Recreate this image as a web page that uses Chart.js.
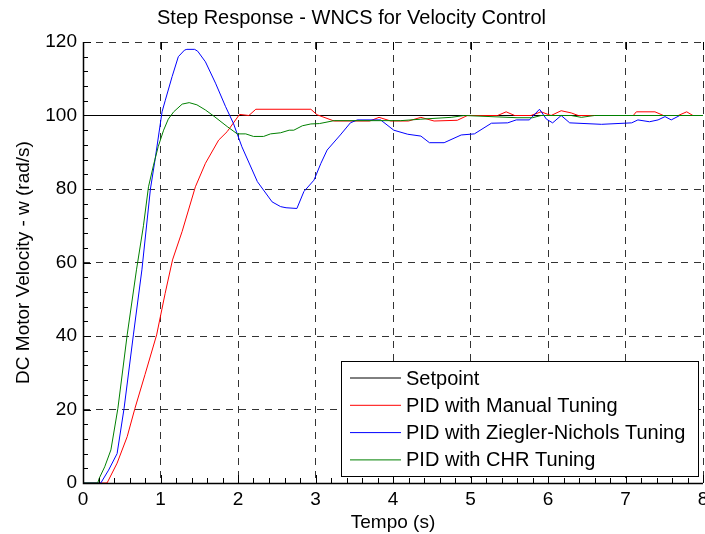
<!DOCTYPE html>
<html lang="en">
<head>
    <script src="https://cdn.jsdelivr.net/npm/chart.js"></script>
    <style>
        body { margin: 0; background: #fff; }
        .wrap { width: 705px; height: 534px; position: relative; }
    </style>
</head>
<body>
    <div class="wrap">
        <canvas id="stepChart"></canvas>
    </div>

    <script>
        // values
        const setpointT = [0, 8];
        const setpointW = [100, 100];

        const manualT = [0, 0.31, 0.33, 0.44, 0.57, 0.67, 0.80, 0.95, 1.06, 1.155, 1.28, 1.45, 1.58, 1.75, 1.86, 2.02, 2.14, 2.23, 2.94, 3.02, 3.24, 3.70, 3.82, 3.97, 4.20, 4.36, 4.53, 4.83, 4.96, 5.35, 5.46, 5.57, 5.78, 5.91, 6.04, 6.17, 6.30, 6.39, 7.10, 7.14, 7.38, 7.49, 7.68, 7.79, 7.87, 8];
        const manualW = [0, 0, 0.8, 5.4, 12.6, 20.3, 29.5, 40.3, 51.6, 60.7, 68.5, 80.6, 87, 93.3, 95.6, 100.3, 100, 101.7, 101.7, 100.2, 98.5, 98.5, 99.5, 98.5, 98.5, 99.5, 98.5, 98.7, 100, 100, 101, 100, 100, 101, 100, 101.3, 100.7, 100, 100, 101, 101, 100, 100, 101, 100, 100];

        const znT = [0, 0.23, 0.33, 0.44, 0.53, 0.65, 0.76, 0.87, 0.93, 1.02, 1.06, 1.15, 1.23, 1.31, 1.34, 1.44, 1.48, 1.58, 1.71, 1.84, 1.94, 2.05, 2.25, 2.44, 2.55, 2.62, 2.76, 2.85, 2.98, 3.07, 3.15, 3.32, 3.45, 3.54, 3.84, 4.01, 4.19, 4.36, 4.47, 4.66, 4.88, 5.05, 5.27, 5.48, 5.59, 5.76, 5.89, 5.98, 6.06, 6.17, 6.28, 6.69, 7.08, 7.16, 7.31, 7.42, 7.51, 7.59, 7.70, 8];
        const znW = [0, 0, 3.5, 8, 20.3, 40.3, 58, 80, 88, 101, 104, 110.6, 116, 117.8, 118, 118, 117.5, 114.6, 108.8, 102.4, 97.9, 91.5, 82, 76.5, 75.2, 74.9, 74.7, 79.3, 82.4, 87, 90.6, 94.7, 98, 98.8, 98.8, 96, 94.9, 94.4, 92.6, 92.6, 94.7, 95, 97.9, 98, 98.8, 98.8, 101.7, 99, 98, 100, 98, 97.6, 98, 98.8, 98.3, 98.8, 99.7, 98.8, 100, 100];

        const chrT = [0, 0.19, 0.21, 0.28, 0.36, 0.45, 0.57, 0.69, 0.78, 0.845, 0.91, 0.97, 1.04, 1.10, 1.17, 1.28, 1.37, 1.47, 1.58, 1.69, 1.86, 1.99, 2.10, 2.20, 2.33, 2.42, 2.55, 2.66, 2.72, 2.83, 2.94, 3.05, 3.24, 4.10, 4.36, 4.75, 4.92, 5.60, 5.80, 5.91, 6.30, 6.43, 6.60, 8];
        const chrW = [0, 0, 1.3, 4.4, 9, 20.3, 40.3, 58, 70, 80.6, 86.5, 91.5, 96, 99, 101, 103.1, 103.5, 102.9, 101.5, 99.8, 97, 95, 95, 94.3, 94.3, 95, 95.3, 96, 96, 97.2, 97.7, 97.8, 98.6, 98.6, 99, 99.5, 100, 99.4, 99.4, 100, 100, 99.5, 100, 100];

        const xTicks = [0, 1, 2, 3, 4, 5, 6, 7, 8];
        const yTicks = [0, 20, 40, 60, 80, 100, 120];

        const FONT = "'Liberation Sans', Arial, sans-serif";

        function pts(t, w) {
            return t.map((v, i) => ({ x: v, y: w[i] }));
        }

        // solid left/bottom axes, inward tick marks, legend box
        const axesAndLegend = {
            id: 'axesAndLegend',
            afterDatasetsDraw(chart) {
                const { ctx, chartArea: a } = chart;
                const xs = chart.scales.x, ys = chart.scales.y;
                ctx.save();
                ctx.strokeStyle = '#000';
                ctx.lineWidth = 1;
                ctx.setLineDash([]);
                ctx.beginPath();
                // minor ticks
                for (let v = 0; v <= 8.001; v += 0.2) {
                    const px = Math.round(xs.getPixelForValue(v)) + 0.5;
                    ctx.moveTo(px, a.bottom); ctx.lineTo(px, a.bottom - 5);
                }
                for (let v = 0; v <= 120.001; v += 4) {
                    const py = Math.round(ys.getPixelForValue(v)) + 0.5;
                    ctx.moveTo(a.left, py); ctx.lineTo(a.left + 5, py);
                }
                // major ticks
                xTicks.forEach(v => {
                    const px = Math.round(xs.getPixelForValue(v)) + 0.5;
                    ctx.moveTo(px, a.bottom); ctx.lineTo(px, a.bottom - 8);
                    ctx.moveTo(px, a.top); ctx.lineTo(px, a.top + 8);
                });
                yTicks.forEach(v => {
                    const py = Math.round(ys.getPixelForValue(v)) + 0.5;
                    ctx.moveTo(a.left, py); ctx.lineTo(a.left + 8, py);
                });
                ctx.stroke();

                ctx.lineWidth = 1.5;
                ctx.beginPath();
                ctx.moveTo(a.left + 0.5, a.top);
                ctx.lineTo(a.left + 0.5, a.bottom + 0.5);
                ctx.lineTo(a.right, a.bottom + 0.5);
                ctx.stroke();

                // legend
                const w = 357, h = 115;
                const lx = a.right - 5 - w, ly = a.bottom - 7 - h;
                ctx.fillStyle = '#fff';
                ctx.fillRect(lx, ly, w, h);
                ctx.lineWidth = 1;
                ctx.strokeRect(lx + 0.5, ly + 0.5, w, h);
                ctx.font = '20px ' + FONT;
                ctx.textBaseline = 'middle';
                ctx.textAlign = 'left';
                chart.data.datasets.forEach((ds, i) => {
                    const cy = ly + 17 + i * 27.3;
                    ctx.strokeStyle = ds.borderColor;
                    ctx.beginPath();
                    ctx.moveTo(lx + 9, cy); ctx.lineTo(lx + 60, cy);
                    ctx.stroke();
                    ctx.fillStyle = '#000';
                    ctx.fillText(ds.label, lx + 65, cy + 1);
                });
                ctx.restore();
            }
        };

        const line = (label, t, w, color, order) => ({
            label: label,
            data: pts(t, w),
            borderColor: color,
            borderWidth: 1,
            pointRadius: 0,
            tension: 0,
            fill: false,
            order: order
        });

        new Chart(document.getElementById('stepChart'), {
            type: 'line',
            data: {
                datasets: [
                    line('Setpoint', setpointT, setpointW, '#000000', 3),
                    line('PID with Manual Tuning', manualT, manualW, '#ff0000', 2),
                    line('PID with Ziegler-Nichols Tuning', znT, znW, '#0000ff', 1),
                    line('PID with CHR Tuning', chrT, chrW, '#008000', 0)
                ]
            },
            options: {
                responsive: true,
                maintainAspectRatio: false,
                animation: false,
                layout: { padding: { right: 2 } },
                plugins: {
                    legend: { display: false },
                    tooltip: { enabled: false },
                    title: {
                        display: true,
                        text: 'Step Response - WNCS for Velocity Control',
                        color: '#000',
                        font: { family: FONT, size: 20, weight: 'normal' },
                        padding: { top: 6, bottom: 12 }
                    }
                },
                scales: {
                    x: {
                        type: 'linear',
                        min: 0,
                        max: 8,
                        afterBuildTicks: s => { s.ticks = xTicks.map(v => ({ value: v })); },
                        afterFit: s => { s.height = 51; s.paddingLeft = 0; s.paddingRight = 0; },
                        ticks: { color: '#000', font: { family: FONT, size: 19 }, padding: 5, maxRotation: 0, autoSkip: false },
                        grid: { color: '#333', drawTicks: false, lineWidth: 1 },
                        border: { display: false, dash: [7, 6] },
                        title: {
                            display: true,
                            text: 'Tempo (s)',
                            color: '#000',
                            font: { family: FONT, size: 19 },
                            padding: 0
                        }
                    },
                    y: {
                        min: 0,
                        max: 120,
                        afterBuildTicks: s => { s.ticks = yTicks.map(v => ({ value: v })); },
                        afterFit: s => { s.width = 83; },
                        ticks: { color: '#000', font: { family: FONT, size: 19 }, padding: 6 },
                        grid: { color: '#333', drawTicks: false, lineWidth: 1 },
                        border: { display: false, dash: [7, 6] },
                        title: {
                            display: true,
                            text: 'DC Motor Velocity - w (rad/s)',
                            color: '#000',
                            font: { family: FONT, size: 19 },
                            padding: { top: 12, bottom: 0 }
                        }
                    }
                }
            },
            plugins: [axesAndLegend]
        });
    </script>
</body>
</html>
